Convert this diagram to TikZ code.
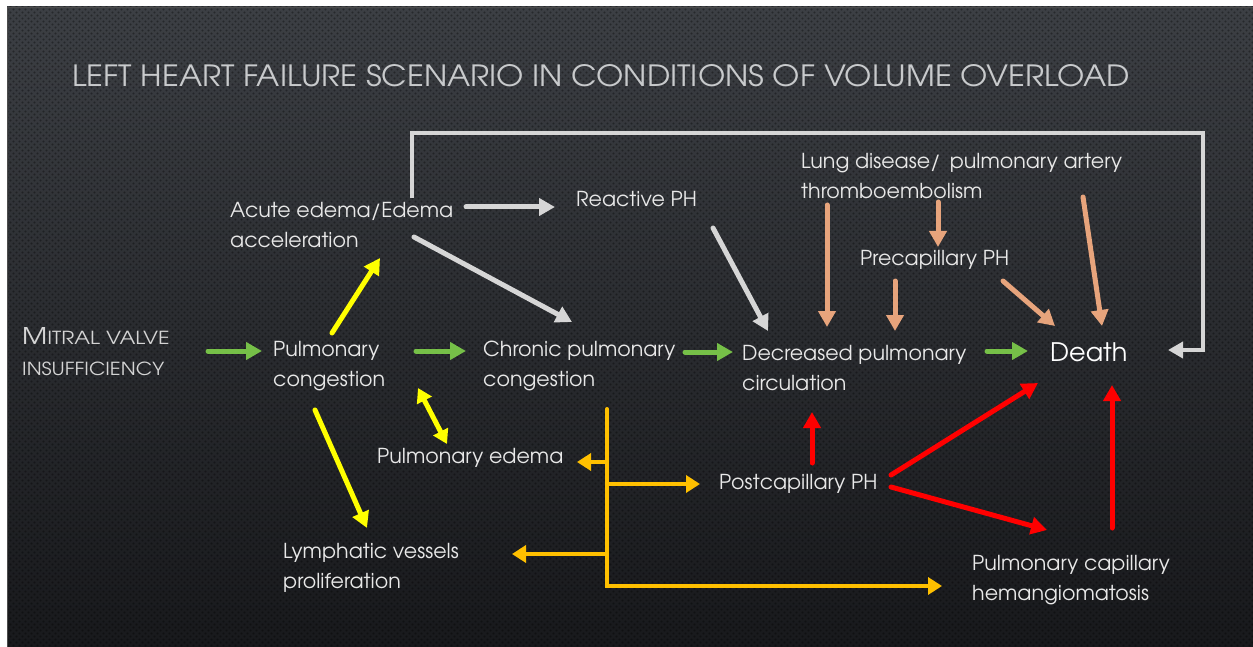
\documentclass[tikz,border=0pt]{standalone}
\usepackage{fontspec}
\setmainfont{texgyreadventor-regular.otf}
\usetikzlibrary{arrows.meta,calc,patterns.meta}
\definecolor{bgtop}{RGB}{60,63,68}
\definecolor{bgmid}{RGB}{42,44,48}
\definecolor{bgbot}{RGB}{24,25,28}
\definecolor{txtc}{RGB}{232,232,232}
\definecolor{titlec}{RGB}{200,202,204}
\definecolor{mitc}{RGB}{212,212,212}
\definecolor{gc}{RGB}{118,192,72}
\definecolor{yc}{RGB}{255,255,0}
\definecolor{grc}{RGB}{214,214,214}
\definecolor{tc}{RGB}{231,164,124}
\definecolor{rc}{RGB}{255,0,0}
\definecolor{oc}{RGB}{255,192,0}
\tikzdeclarepattern{
  name=bgdots,
  type=uncolored,
  bottom left={(-.1pt,-.1pt)},
  top right={(6.1pt,6.1pt)},
  tile size={(6pt,6pt)},
  code={\fill (1.5pt,1.5pt) circle (1.1pt); \fill (4.5pt,4.5pt) circle (1.1pt);}
}
\tikzset{
  txt/.style={anchor=west, inner sep=0pt, align=left, text=txtc, font=\fontsize{20.6}{30}\selectfont},
  arr/.style={line width=5pt, line cap=round, -{Triangle[length=16pt,width=17pt]}},
  garr/.style={arr, draw=gc},
  yarr/.style={arr, draw=yc, fill=yc},
  grarr/.style={arr, draw=grc},
  tarr/.style={arr, draw=tc},
  rarr/.style={arr, draw=rc},
  oarr/.style={line width=4pt, line cap=round, draw=oc, -{Triangle[length=14pt,width=17pt]}},
  looparr/.style={line width=4pt, line cap=butt, draw=grc, -{Triangle[length=15pt,width=16pt]}}
}
\begin{document}
\begin{tikzpicture}[x=1pt,y=-1pt]
\useasboundingbox (0,0) rectangle (1253,647);
\fill[white] (0,0) rectangle (1253,647);
\shade[top color=bgtop, middle color=bgmid, bottom color=bgbot] (7,7) rectangle (1253,647);
\fill[pattern=bgdots, pattern color=black, opacity=0.35] (7,7) rectangle (1253,647);
\draw[black!70, line width=0.8pt] (7,647) -- (7,7) -- (1253,7);

% title
\node[anchor=west, inner sep=0pt, text=titlec] (title) at (72,76)
  {\resizebox{1058pt}{22pt}{\fontsize{30}{30}\selectfont LEFT HEART FAILURE SCENARIO IN CONDITIONS OF VOLUME OVERLOAD}};

% nodes
\node[txt, text=mitc, font=\fontsize{18}{31}\selectfont] (mit) at (22,352)
  {\scalebox{1.19}[1]{{\fontsize{23}{31}\selectfont M}ITRAL VALVE}\\\scalebox{1.12}[1]{INSUFFICIENCY}};
\node[txt] (pc) at (273,366) {Pulmonary\\congestion};
\node[txt] (acute) at (230,225) {Acute edema/Edema\\acceleration};
\node[txt] (react) at (576,199) {Reactive PH};
\node[txt] (lung) at (801,176) {Lung disease/\, pulmonary artery\\thromboembolism};
\node[txt] (precap) at (860,260) {Precapillary PH};
\node[txt] (chron) at (483,366) {Chronic pulmonary\\congestion};
\node[txt] (dec) at (742,368) {Decreased pulmonary\\circulation};
\node[txt, text=white, font=\fontsize{25.5}{30}\selectfont] (death) at (1050,352) {Death};
\node[txt] (pe) at (377,458) {Pulmonary edema};
\node[txt] (post) at (719,484) {Postcapillary PH};
\node[txt] (lymph) at (283,568) {Lymphatic vessels\\proliferation};
\node[txt] (hem) at (972,580) {Pulmonary capillary\\hemangiomatosis};

% green
\draw[garr] ([shift={(186,-1)}]mit.west) -- ([shift={(-11,-15)}]pc.west);
\draw[garr] ([shift={(143,-15)}]pc.west) -- ([shift={(-17,-15)}]chron.west);
\draw[garr] ([shift={(202,-14)}]chron.west) -- ([shift={(-9,-16)}]dec.west);
\draw[garr] ([shift={(245,-17)}]dec.west) -- ([shift={(-22,-1)}]death.west);

% yellow
\draw[yarr] ([shift={(59,-33)}]pc.west) -- ([shift={(150,33)}]acute.west);
\draw[yarr] ([shift={(42,44)}]pc.west) -- ([shift={(84,-40)}]lymph.west);
\draw[line width=5pt, draw=yc, {Triangle[length=14pt,width=16pt]}-{Triangle[length=14pt,width=16pt]}]
  ([shift={(145,22)}]pc.west) -- ([shift={(70,-14)}]pe.west);

% grey
\draw[grarr] ([shift={(236,-18)}]acute.west) -- ([shift={(-21,8)}]react.west);
\draw[grarr] ([shift={(184,12)}]acute.west) -- ([shift={(89,-44)}]chron.west);
\draw[grarr] ([shift={(137,29)}]react.west) -- ([shift={(26,-37)}]dec.west);
\draw[looparr] ([shift={(182,-27)}]acute.west) |- ([shift={(153,-219)}]death.west) |- ([shift={(118,-2)}]death.west);

% tan
\draw[tarr] ([shift={(26,29)}]lung.west) -- ([shift={(85,-41)}]dec.west);
\draw[tarr] ([shift={(137,26)}]lung.west) -- ([shift={(78,-13)}]precap.west);
\draw[tarr] ([shift={(35,21)}]precap.west) -- ([shift={(153,-37)}]dec.west);
\draw[tarr] ([shift={(143,21)}]precap.west) -- ([shift={(5,-26)}]death.west);
\draw[tarr] ([shift={(282,21)}]lung.west) -- ([shift={(52,-26)}]death.west);

% red
\draw[rarr] ([shift={(93,-21)}]post.west) -- ([shift={(70,44)}]dec.west);
\draw[rarr] ([shift={(172,-9)}]post.west) -- ([shift={(-12,31)}]death.west);
\draw[rarr] ([shift={(172,3)}]post.west) -- ([shift={(75,-50)}]hem.west);
\draw[rarr] ([shift={(140,-52)}]hem.west) -- ([shift={(62,33)}]death.west);

% orange
\coordinate (tr) at ([shift={(124,43)}]chron.west);
\coordinate (peE) at ([shift={(200,4)}]pe.west);
\coordinate (poE) at ([shift={(-19,0)}]post.west);
\coordinate (lyE) at ([shift={(229,-14)}]lymph.west);
\coordinate (heE) at ([shift={(-30,6)}]hem.west);
\draw[oarr] (tr) |- (heE);
\draw[oarr] (tr |- peE) -- (peE);
\draw[oarr] (tr |- poE) -- (poE);
\draw[oarr] (tr |- lyE) -- (lyE);
\end{tikzpicture}
\end{document}
